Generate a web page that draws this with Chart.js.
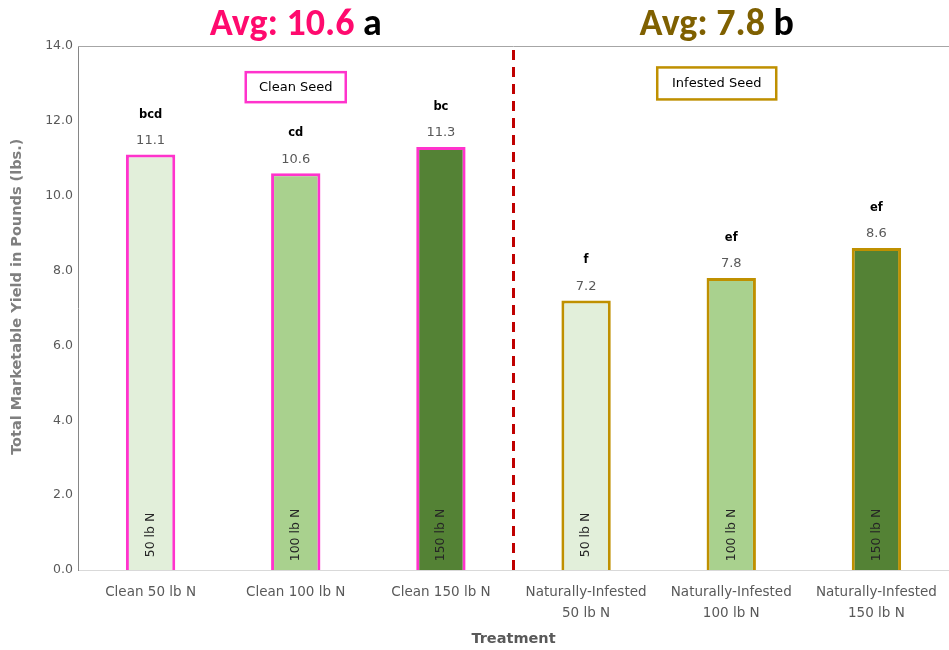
<!DOCTYPE html>
<html><head><meta charset="utf-8">
<script src="https://cdn.jsdelivr.net/npm/chart.js@4"></script>
<style>html,body{margin:0;padding:0;background:#fff}#w{width:949px;height:650px}</style>
</head><body><div id="w"><canvas id="c" width="949" height="650"></canvas></div>
<script>
const categories = [["Clean 50 lb N"],["Clean 100 lb N"],["Clean 150 lb N"],["Naturally-Infested","50 lb N"],["Naturally-Infested","100 lb N"],["Naturally-Infested","150 lb N"]];
const yieldValues = [11.1, 10.6, 11.3, 7.2, 7.8, 8.6];
const letters = ["bcd","cd","bc","f","ef","ef"];
const nitrogenLabels = ["50 lb N","100 lb N","150 lb N","50 lb N","100 lb N","150 lb N"];
const groupAverages = ["10.6","7.8"];
const groupLetters = ["a","b"];
const groupNames = ["Clean Seed","Infested Seed"];
const yTicks = [0,2,4,6,8,10,12,14];
const yTitle = "Total Marketable Yield in Pounds (lbs.)";

const fills = ["#E2EFDA","#A9D18E","#548235","#E2EFDA","#A9D18E","#548235"];
const borders = ["#FF33CC","#FF33CC","#FF33CC","#BF9000","#BF9000","#BF9000"];
const GRAY = "#595959";
const FONT = "'DejaVu Sans', sans-serif";
const TFONT = "Carlito, Calibri, 'Open Sans', sans-serif";

const annot = {
  id:'annot',
  afterDatasetsDraw(chart){
    const ctx = chart.ctx, xs = chart.scales.x, ys = chart.scales.y, ca = chart.chartArea;
    ctx.save();
    // frame top line
    ctx.strokeStyle = "#A6A6A6"; ctx.lineWidth = 1;
    ctx.beginPath(); ctx.moveTo(ca.left, ca.top+0.5); ctx.lineTo(ca.right, ca.top+0.5); ctx.stroke();
    // dashed divider
    const dx = (xs.getPixelForValue(2)+xs.getPixelForValue(3))/2;
    ctx.strokeStyle = "#C00000"; ctx.lineWidth = 3; ctx.setLineDash([10,7]);
    ctx.beginPath(); ctx.moveTo(dx, ca.top+4); ctx.lineTo(dx, ca.bottom); ctx.stroke();
    ctx.setLineDash([]);
    // y axis title
    ctx.save();
    ctx.translate(17, ys.getPixelForValue(7.3));
    ctx.rotate(-Math.PI/2);
    ctx.textAlign='center'; ctx.textBaseline='middle';
    ctx.fillStyle="#7F7F7F"; ctx.font="bold 14.5px "+FONT;
    ctx.fillText(yTitle, 0, 0);
    ctx.restore();
    // labels above bars
    const meta = chart.getDatasetMeta(0);
    meta.data.forEach((bar,i)=>{
      ctx.textAlign='center'; ctx.textBaseline='middle';
      ctx.fillStyle = GRAY; ctx.font = "13px "+FONT;
      ctx.fillText(yieldValues[i].toFixed(1), bar.x, bar.y-14);
      ctx.fillStyle = "#000"; ctx.font = "bold 11.5px "+FONT;
      ctx.fillText(letters[i], bar.x, bar.y-40);
      // inner rotated text
      ctx.save();
      ctx.translate(bar.x, ys.getPixelForValue(0)-35);
      ctx.rotate(-Math.PI/2);
      ctx.fillStyle = "#262626"; ctx.font = "12.5px "+FONT;
      ctx.fillText(nitrogenLabels[i], 0, 0);
      ctx.restore();
    });
    // group boxes
    const boxes = [
      {x: xs.getPixelForValue(1), y: ys.getPixelForValue(12.9), w: 100, h: 30, c: "#FF33CC", t: groupNames[0]},
      {x: xs.getPixelForValue(3.9), y: ys.getPixelForValue(13.0), w: 119, h: 32, c: "#BF9000", t: groupNames[1]}
    ];
    boxes.forEach(b=>{
      ctx.fillStyle="#fff"; ctx.fillRect(b.x-b.w/2, b.y-b.h/2, b.w, b.h);
      ctx.strokeStyle=b.c; ctx.lineWidth=2.5;
      ctx.strokeRect(b.x-b.w/2, b.y-b.h/2, b.w, b.h);
      ctx.fillStyle="#000"; ctx.font="13px "+FONT; ctx.textAlign='center'; ctx.textBaseline='middle';
      ctx.fillText(b.t, b.x, b.y);
    });
    // titles
    const titles = [
      {x: xs.getPixelForValue(1), c: "#FF0A6E", a: "Avg: "+groupAverages[0], b: " "+groupLetters[0]},
      {x: xs.getPixelForValue(3.9), c: "#7F6000", a: "Avg: "+groupAverages[1], b: " "+groupLetters[1]}
    ];
    ctx.font = "bold 38px "+TFONT; ctx.textBaseline='alphabetic'; ctx.textAlign='left';
    titles.forEach(t=>{
      const wa = ctx.measureText(t.a).width, wb = ctx.measureText(t.b).width;
      const x0 = t.x - (wa+wb)/2;
      ctx.fillStyle=t.c; ctx.fillText(t.a, x0, 35);
      ctx.fillStyle="#000"; ctx.fillText(t.b, x0+wa, 35);
    });
    ctx.restore();
  }
};

new Chart(document.getElementById('c'), {
  type:'bar',
  data:{ labels: categories, datasets:[{ data: yieldValues, backgroundColor: fills, borderColor: borders, borderWidth: 3, barPercentage: 0.34, categoryPercentage: 1.0 }]},
  options:{
    responsive:false, animation:false, devicePixelRatio:1,
    layout:{ padding:{ top:46, left:0, right:0, bottom:0 } },
    plugins:{ legend:{display:false}, tooltip:{enabled:false} },
    scales:{
      x:{
        grid:{display:false, drawTicks:false},
        border:{display:true, color:"#D9D9D9", width:1},
        ticks:{ color:GRAY, font:{family:FONT, size:13.5, lineHeight:1.55}, padding:12, maxRotation:0, autoSkip:false },
        title:{ display:true, text:"Treatment", color:GRAY, font:{family:FONT, size:14.5, weight:'bold'}, padding:{top:4,bottom:2} },
        afterFit(s){ s.height = 80; }
      },
      y:{
        min:0, max:14,
        afterBuildTicks(s){ s.ticks = yTicks.map(v=>({value:v})); },
        grid:{display:false, drawTicks:false},
        border:{display:true, color:"#868686", width:1},
        ticks:{ color:GRAY, font:{family:FONT, size:12.5}, padding:5, callback:v=>Number(v).toFixed(1) },
        title:{ display:false },
        afterFit(s){ s.width = 78; }
      }
    }
  },
  plugins:[annot]
});
</script></body></html>
